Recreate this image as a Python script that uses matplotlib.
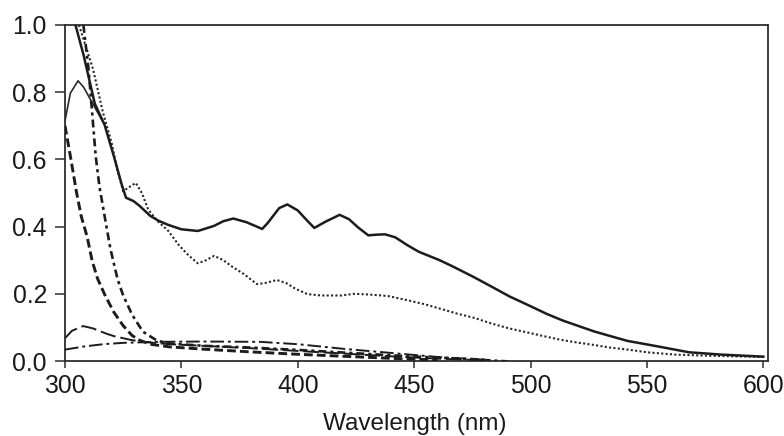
import matplotlib
matplotlib.use("Agg")
import matplotlib.pyplot as plt

plt.rcParams['font.family'] = ['Liberation Sans', 'DejaVu Sans']

# ---- data (wavelength in nm, absorbance) ----
wl_A = [304.5, 308, 312.8, 317, 321, 324.3, 326.2, 329.4, 332, 336.6, 340, 344.4, 350,
        357.1, 364, 368, 372.3, 378, 384.7, 387, 392, 395.5, 400, 404, 407.1, 412, 418,
        422, 426, 430.3, 434, 437.5, 441.9, 447, 452, 460.6, 466.4, 475, 483.6, 491, 499.4,
        507, 514, 527.3, 541.5, 555, 568, 582, 600]
abs_A = [1.0, 0.91, 0.766, 0.703, 0.609, 0.527, 0.486, 0.476, 0.462, 0.432, 0.418, 0.405, 0.392,
         0.387, 0.402, 0.416, 0.424, 0.413, 0.393, 0.41, 0.455, 0.466, 0.448, 0.418, 0.396, 0.415, 0.435,
         0.422, 0.397, 0.374, 0.376, 0.377, 0.368, 0.345, 0.325, 0.301, 0.282, 0.252, 0.22, 0.192, 0.165,
         0.14, 0.12, 0.088, 0.06, 0.043, 0.026, 0.019, 0.013]

wl_B = [306, 312, 316.3, 320, 322.4, 325, 327, 330.4, 333, 335.8, 340, 344.4, 349, 353, 357,
        360, 364.1, 368, 372, 377, 382.4, 386, 391, 395, 399, 404.2, 410, 418.7, 424.3, 430,
        436, 439, 447.7, 455, 462, 469, 476, 483, 490.8, 498, 505, 513, 520, 527, 534, 541.6,
        550, 562, 575, 587, 600]
abs_B = [1.0, 0.87, 0.74, 0.65, 0.57, 0.505, 0.515, 0.53, 0.5, 0.45, 0.415, 0.387, 0.344, 0.315, 0.291,
         0.298, 0.313, 0.3, 0.28, 0.258, 0.229, 0.232, 0.241, 0.232, 0.215, 0.199, 0.195, 0.195, 0.2, 0.198,
         0.195, 0.193, 0.18, 0.168, 0.154, 0.14, 0.128, 0.112, 0.097, 0.086, 0.075, 0.063, 0.055, 0.048, 0.04, 0.034,
         0.026, 0.019, 0.016, 0.014, 0.012]

wl_C = [300, 302.3, 305.6, 308, 310.7, 314, 316]
abs_C = [0.715, 0.797, 0.834, 0.815, 0.781, 0.74, 0.715]

wl_D = [307.9, 310.1, 313.2, 314.8, 317.1, 319.5, 322.6, 324.9, 328.8, 333.5, 339.7, 345, 360,
        380, 400, 420, 440, 460, 480]
abs_D = [1.0, 0.87, 0.609, 0.519, 0.428, 0.334, 0.243, 0.197, 0.138, 0.087, 0.06, 0.052, 0.045,
         0.04, 0.033, 0.025, 0.017, 0.01, 0.004]

wl_E = [300, 302.3, 305, 307, 309.5, 311.7, 314, 317.1, 321, 325, 328.8, 332, 336.6, 345, 360,
        380, 400, 420, 440, 460]
abs_E = [0.70, 0.61, 0.50, 0.43, 0.37, 0.297, 0.245, 0.197, 0.145, 0.105, 0.076, 0.062, 0.05, 0.042, 0.035,
         0.027, 0.02, 0.014, 0.008, 0.003]

wl_F = [300, 308, 316.4, 325, 339.7, 360, 383.9, 400, 420, 440, 460, 480, 490]
abs_F = [0.034, 0.043, 0.05, 0.054, 0.057, 0.058, 0.057, 0.05, 0.036, 0.024, 0.012, 0.004, 0.0]

wl_G = [300, 303, 307.8, 312, 317.9, 321, 328.8, 335, 345, 360, 380, 400, 420, 440, 460, 480]
abs_G = [0.068, 0.09, 0.104, 0.097, 0.081, 0.074, 0.062, 0.056, 0.05, 0.045, 0.038, 0.03, 0.022,
         0.014, 0.007, 0.002]

x_ticks = [300, 350, 400, 450, 500, 550, 600]
y_ticks = [0.0, 0.2, 0.4, 0.6, 0.8, 1.0]
x_label = "Wavelength (nm)"

# ---- figure ----
W, H = 784, 436
fig = plt.figure(figsize=(W / 100, H / 100), dpi=100)
left, right, top, bottom = 65, 768, 25, 361
ax = fig.add_axes([left / W, 1 - bottom / H, (right - left) / W, (bottom - top) / H])

ink = '#1c1c1c'
ax.plot(wl_A, abs_A, color=ink, lw=1.8, ls='-', zorder=5)
ax.plot(wl_B, abs_B, color='#262626', lw=1.5, ls=(0, (1, 1.1)), zorder=4)
ax.plot(wl_C, abs_C, color='#2a2a2a', lw=1.2, ls='-', zorder=4)
ax.plot(wl_D, abs_D, color=ink, lw=1.9, ls=(0, (3, 1.5, 1.2, 1.5)), zorder=4)
ax.plot(wl_E, abs_E, color=ink, lw=2.1, ls=(0, (3, 1.4)), zorder=4)
ax.plot(wl_F, abs_F, color=ink, lw=1.4, ls=(0, (7, 2, 1.5, 2)), zorder=3)
ax.plot(wl_G, abs_G, color=ink, lw=1.4, ls=(0, (8, 2.5)), zorder=3)

ax.set_xlim(300, 602)
ax.set_ylim(0, 1.0)
ax.set_xticks(x_ticks)
ax.set_yticks(y_ticks)
ax.set_yticklabels([f"{v:.1f}" for v in y_ticks])

for s in ax.spines.values():
    s.set_color('#2e2e2e')
    s.set_linewidth(1.3)

ax.tick_params(axis='both', direction='out', width=1.1, color='#2e2e2e',
               labelsize=17.8, labelcolor='#1a1a1a')
ax.tick_params(axis='x', length=5, pad=4)
ax.tick_params(axis='y', length=7, pad=6)

fig.text(415 / W, 6 / H, x_label, ha='center', va='baseline', fontsize=17.5, color='#1a1a1a')

fig.savefig("out.png", dpi=100)
